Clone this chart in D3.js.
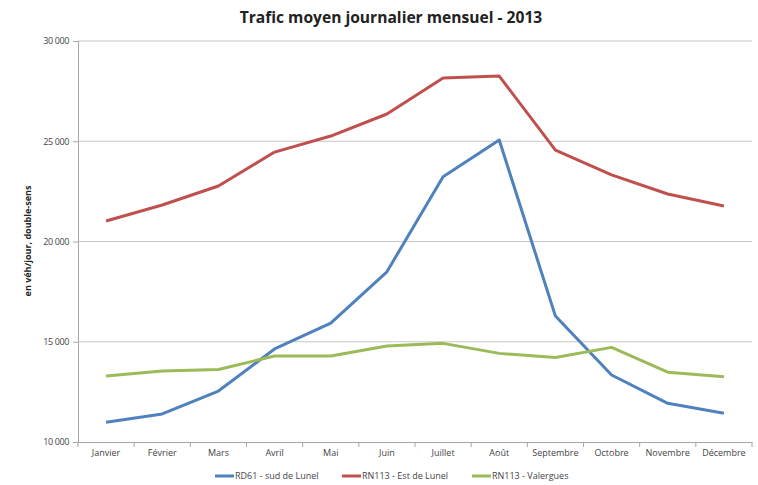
<!DOCTYPE html>
<html>
<head>
<meta charset="utf-8">
<script src="https://cdn.jsdelivr.net/npm/d3@7"></script>
<style>
  body { margin: 0; background: #fff; }
  text { font-family: "Open Sans", "Noto Sans", sans-serif; fill: #333; }
</style>
</head>
<body>
<svg id="chartSVG"></svg>
<script>
// data
let months = ['Janvier', 'Février', 'Mars', 'Avril', 'Mai', 'Juin', 'Juillet', 'Août', 'Septembre', 'Octobre', 'Novembre', 'Décembre'];
let rd61 = [10980, 11400, 12540, 14640, 15930, 18490, 23230, 25060, 16280, 13340, 11930, 11430];
let rn113Est = [21020, 21820, 22770, 24460, 25260, 26360, 28150, 28250, 24560, 23320, 22370, 21770];
let rn113Val = [13290, 13540, 13620, 14290, 14290, 14790, 14920, 14420, 14210, 14720, 13480, 13260];
let seriesNames = ['RD61 - sud de Lunel', 'RN113 - Est de Lunel', 'RN113 - Valergues'];
let yTicks = [10000, 15000, 20000, 25000, 30000];

let widthSVG = 758;
let heightSVG = 485;
let margins = { top: 41, bottom: 43, right: 6, left: 78 };
let width = widthSVG - margins.left - margins.right;
let height = heightSVG - margins.top - margins.bottom;

let colors = ['#4F81BD', '#C0504D', '#9BBB59'];
let series = [rd61, rn113Est, rn113Val];

let SVG = d3.select('svg#chartSVG')
            .attr('width', widthSVG)
            .attr('height', heightSVG);

let SVGG = SVG.append('g')
              .attr('transform', `translate(${margins.left}, ${margins.top})`);

let x = d3.scaleBand().domain(months).range([0, width]);
let y = d3.scaleLinear().domain([10000, 30000]).range([height, 0]);

let fmt = d => d3.format(',')(d).replace(',', ' ');

// gridlines
SVGG.append('g')
    .selectAll('line')
    .data(yTicks.slice(1))
    .enter()
    .append('line')
    .attr('x1', 0)
    .attr('x2', width)
    .attr('y1', d => y(d))
    .attr('y2', d => y(d))
    .style('stroke', '#c8c8c8')
    .style('stroke-width', 1);

// y axis
let yAxis = SVGG.append('g')
    .call(d3.axisLeft(y).tickValues(yTicks).tickSize(5).tickPadding(4).tickFormat(fmt));
yAxis.selectAll('line, path').style('stroke', '#a6a6a6');
yAxis.selectAll('text').style('font-size', '9px').style('fill', '#444').style('letter-spacing', '-0.4px');

// x axis (ticks between categories)
let xAxis = SVGG.append('g')
    .attr('transform', `translate(0, ${height})`)
    .call(d3.axisBottom(x).tickSize(0).tickPadding(8));
xAxis.select('path').style('stroke', '#a6a6a6');
xAxis.selectAll('text').style('font-size', '9px').style('fill', '#444');
xAxis.append('g')
    .selectAll('line')
    .data(d3.range(months.length + 1))
    .enter()
    .append('line')
    .attr('x1', i => i * x.step())
    .attr('x2', i => i * x.step())
    .attr('y1', 0)
    .attr('y2', 5)
    .style('stroke', '#a6a6a6');

// lines
let line = d3.line()
    .x((d, i) => x(months[i]) + x.bandwidth() / 2)
    .y(d => y(d));

SVGG.selectAll('path.serie')
    .data(series)
    .enter()
    .append('path')
    .attr('class', 'serie')
    .attr('d', d => line(d))
    .style('fill', 'none')
    .style('stroke', (d, i) => colors[i])
    .style('stroke-width', 3)
    .style('stroke-linejoin', 'round');

// title
SVG.append('text')
   .attr('x', 391)
   .attr('y', 23)
   .style('text-anchor', 'middle')
   .style('font-size', '15.6px')
   .style('font-weight', 'bold')
   .style('fill', '#222')
   .text('Trafic moyen journalier mensuel - 2013');

// y axis title
SVG.append('text')
   .attr('transform', `translate(31, 241) rotate(-90)`)
   .style('text-anchor', 'middle')
   .style('font-size', '9px')
   .style('font-weight', 'bold')
   .style('fill', '#222')
   .text('en véh/jour, double-sens');

// legend
let legendX = [215, 342, 472];
let legend = SVG.append('g')
    .selectAll('g')
    .data(seriesNames)
    .enter()
    .append('g')
    .attr('transform', (d, i) => `translate(${legendX[i]}, 476)`);

legend.append('line')
      .attr('x1', 0).attr('x2', 19)
      .style('stroke', (d, i) => colors[i])
      .style('stroke-width', 3);

legend.append('text')
      .attr('x', 20)
      .attr('y', 3)
      .style('font-size', '9px')
      .style('fill', '#444')
      .text(d => d);
</script>
</body>
</html>
